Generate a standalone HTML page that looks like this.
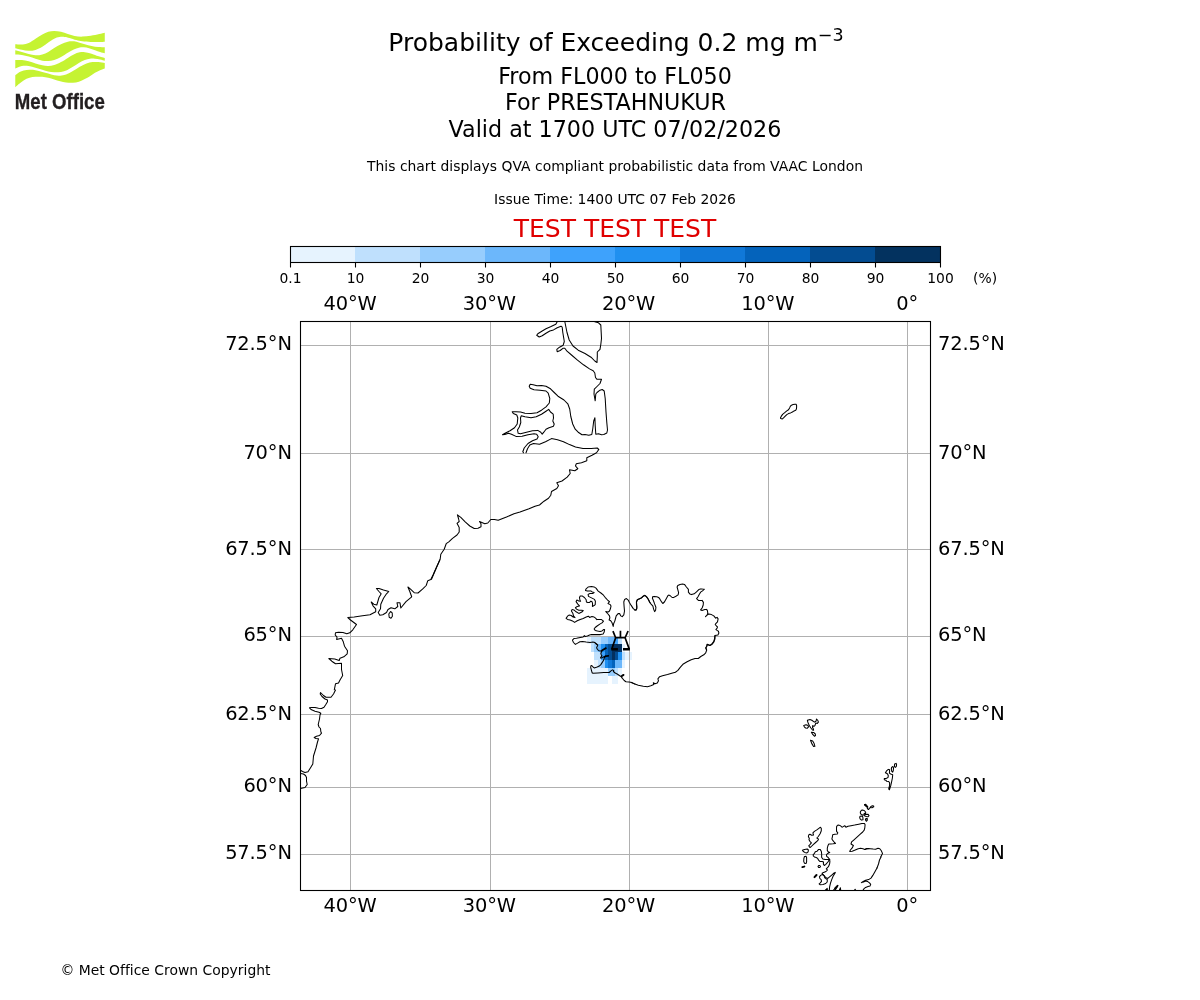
<!DOCTYPE html>
<html lang="en">
<head>
<meta charset="utf-8">
<title>Probability of Exceeding 0.2 mg m-3</title>
<style>
html,body{margin:0;padding:0;background:#fff;}
body{width:1200px;height:1000px;overflow:hidden;position:relative;}
svg{position:absolute;left:0;top:0;display:block;}
text{font-family:"DejaVu Sans","Liberation Sans",sans-serif;fill:#000;}
.t18{font-size:25px;}
.t16{font-size:22.22px;}
.t14{font-size:19.44px;letter-spacing:-0.15px;}
.t10{font-size:13.89px;letter-spacing:0.015px;}
.t9{font-size:12.5px;}
.mid{text-anchor:middle;}
.end{text-anchor:end;}
.grid line{stroke:#b0b0b0;stroke-width:1;}
.coast path{fill:none;stroke:#000;stroke-width:1.05;stroke-linejoin:round;stroke-linecap:round;}
</style>
</head>
<body>
<svg width="1200" height="1000" viewBox="0 0 1200 1000">
<g id="titles">
<text class="t18 mid" x="616" y="51">Probability of Exceeding 0.2 mg m<tspan dy="-10.5" font-size="17.5">−3</tspan></text>
<text class="t16 mid" x="615" y="84">From FL000 to FL050</text>
<text class="t16 mid" x="615.5" y="110">For PRESTAHNUKUR</text>
<text class="t16 mid" x="615" y="137">Valid at 1700 UTC 07/02/2026</text>
<text class="t10 mid" x="615" y="171">This chart displays QVA compliant probabilistic data from VAAC London</text>
<text class="t10 mid" x="615" y="204">Issue Time: 1400 UTC 07 Feb 2026</text>
<text class="t18 mid" x="615" y="237" style="fill:#e00000">TEST TEST TEST</text>
<text class="t10" x="60.4" y="975">© Met Office Crown Copyright</text>
</g>
<g id="colorbar">
<rect x="290" y="246" width="65.5" height="16" fill="#E6F3FE"/>
<rect x="355" y="246" width="65.5" height="16" fill="#BFE0FD"/>
<rect x="420" y="246" width="65.5" height="16" fill="#97CDFD"/>
<rect x="485" y="246" width="65.5" height="16" fill="#6CB7FB"/>
<rect x="550" y="246" width="65.5" height="16" fill="#3EA2FC"/>
<rect x="615" y="246" width="65.5" height="16" fill="#2090F0"/>
<rect x="680" y="246" width="65.5" height="16" fill="#1078D8"/>
<rect x="745" y="246" width="65.5" height="16" fill="#0463BB"/>
<rect x="810" y="246" width="65.5" height="16" fill="#034C91"/>
<rect x="875" y="246" width="65.5" height="16" fill="#03325F"/>
<rect x="290.5" y="246.5" width="650" height="16" fill="none" stroke="#000" stroke-width="1.1"/>
<line x1="290.5" y1="262.5" x2="290.5" y2="267.5" stroke="#000" stroke-width="1.1"/>
<text class="t10 mid" x="290.5" y="283">0.1</text>
<line x1="355.5" y1="262.5" x2="355.5" y2="267.5" stroke="#000" stroke-width="1.1"/>
<text class="t10 mid" x="355.5" y="283">10</text>
<line x1="420.5" y1="262.5" x2="420.5" y2="267.5" stroke="#000" stroke-width="1.1"/>
<text class="t10 mid" x="420.5" y="283">20</text>
<line x1="485.5" y1="262.5" x2="485.5" y2="267.5" stroke="#000" stroke-width="1.1"/>
<text class="t10 mid" x="485.5" y="283">30</text>
<line x1="550.5" y1="262.5" x2="550.5" y2="267.5" stroke="#000" stroke-width="1.1"/>
<text class="t10 mid" x="550.5" y="283">40</text>
<line x1="615.5" y1="262.5" x2="615.5" y2="267.5" stroke="#000" stroke-width="1.1"/>
<text class="t10 mid" x="615.5" y="283">50</text>
<line x1="680.5" y1="262.5" x2="680.5" y2="267.5" stroke="#000" stroke-width="1.1"/>
<text class="t10 mid" x="680.5" y="283">60</text>
<line x1="745.5" y1="262.5" x2="745.5" y2="267.5" stroke="#000" stroke-width="1.1"/>
<text class="t10 mid" x="745.5" y="283">70</text>
<line x1="810.5" y1="262.5" x2="810.5" y2="267.5" stroke="#000" stroke-width="1.1"/>
<text class="t10 mid" x="810.5" y="283">80</text>
<line x1="875.5" y1="262.5" x2="875.5" y2="267.5" stroke="#000" stroke-width="1.1"/>
<text class="t10 mid" x="875.5" y="283">90</text>
<line x1="940.5" y1="262.5" x2="940.5" y2="267.5" stroke="#000" stroke-width="1.1"/>
<text class="t10 mid" x="940.5" y="283">100</text>
<text class="t10" x="973" y="283">(%)</text>
</g>
<g id="map">
<clipPath id="mc"><rect x="300.5" y="321.5" width="630" height="569"/></clipPath>
<g id="cells" shape-rendering="crispEdges">
<rect x="587" y="637" width="4" height="7" fill="#E6F3FE"/>
<rect x="591" y="637" width="3" height="7" fill="#BFE0FD"/>
<rect x="594" y="637" width="4" height="7" fill="#BFE0FD"/>
<rect x="598" y="637" width="3" height="7" fill="#BFE0FD"/>
<rect x="601" y="637" width="4" height="7" fill="#97CDFD"/>
<rect x="605" y="637" width="3" height="7" fill="#97CDFD"/>
<rect x="608" y="637" width="4" height="7" fill="#6CB7FB"/>
<rect x="612" y="637" width="3" height="7" fill="#6CB7FB"/>
<rect x="615" y="637" width="3" height="7" fill="#3EA2FC"/>
<rect x="618" y="637" width="4" height="7" fill="#BFE0FD"/>
<rect x="591" y="644" width="3" height="8" fill="#BFE0FD"/>
<rect x="594" y="644" width="4" height="8" fill="#97CDFD"/>
<rect x="598" y="644" width="3" height="8" fill="#6CB7FB"/>
<rect x="601" y="644" width="4" height="8" fill="#2090F0"/>
<rect x="605" y="644" width="3" height="8" fill="#0463BB"/>
<rect x="608" y="644" width="4" height="8" fill="#034C91"/>
<rect x="612" y="644" width="3" height="8" fill="#03305F"/>
<rect x="615" y="644" width="3" height="8" fill="#03305F"/>
<rect x="618" y="644" width="4" height="8" fill="#03305F"/>
<rect x="622" y="644" width="3" height="8" fill="#E6F3FE"/>
<rect x="594" y="652" width="4" height="8" fill="#BFE0FD"/>
<rect x="598" y="652" width="3" height="8" fill="#BFE0FD"/>
<rect x="601" y="652" width="4" height="8" fill="#3EA2FC"/>
<rect x="605" y="652" width="3" height="8" fill="#0463BB"/>
<rect x="608" y="652" width="4" height="8" fill="#034C91"/>
<rect x="612" y="652" width="3" height="8" fill="#03305F"/>
<rect x="615" y="652" width="3" height="8" fill="#034C91"/>
<rect x="618" y="652" width="4" height="8" fill="#2090F0"/>
<rect x="622" y="652" width="3" height="8" fill="#BFE0FD"/>
<rect x="625" y="652" width="4" height="8" fill="#E6F3FE"/>
<rect x="629" y="652" width="3" height="8" fill="#E6F3FE"/>
<rect x="594" y="660" width="4" height="8" fill="#E6F3FE"/>
<rect x="598" y="660" width="3" height="8" fill="#BFE0FD"/>
<rect x="601" y="660" width="4" height="8" fill="#97CDFD"/>
<rect x="605" y="660" width="3" height="8" fill="#2090F0"/>
<rect x="608" y="660" width="4" height="8" fill="#1078D8"/>
<rect x="612" y="660" width="3" height="8" fill="#0463BB"/>
<rect x="615" y="660" width="3" height="8" fill="#6CB7FB"/>
<rect x="618" y="660" width="4" height="8" fill="#6CB7FB"/>
<rect x="622" y="660" width="3" height="8" fill="#E6F3FE"/>
<rect x="587" y="668" width="4" height="8" fill="#E6F3FE"/>
<rect x="591" y="668" width="3" height="8" fill="#E6F3FE"/>
<rect x="594" y="668" width="4" height="8" fill="#E6F3FE"/>
<rect x="598" y="668" width="3" height="8" fill="#E6F3FE"/>
<rect x="601" y="668" width="4" height="8" fill="#E6F3FE"/>
<rect x="605" y="668" width="3" height="8" fill="#E6F3FE"/>
<rect x="608" y="668" width="4" height="8" fill="#97CDFD"/>
<rect x="612" y="668" width="3" height="8" fill="#97CDFD"/>
<rect x="615" y="668" width="3" height="8" fill="#BFE0FD"/>
<rect x="618" y="668" width="4" height="8" fill="#E6F3FE"/>
<rect x="587" y="676" width="4" height="8" fill="#E6F3FE"/>
<rect x="591" y="676" width="3" height="8" fill="#E6F3FE"/>
<rect x="594" y="676" width="4" height="8" fill="#E6F3FE"/>
<rect x="598" y="676" width="3" height="8" fill="#E6F3FE"/>
<rect x="601" y="676" width="4" height="8" fill="#E6F3FE"/>
<rect x="605" y="676" width="3" height="8" fill="#E6F3FE"/>
<rect x="612" y="676" width="3" height="8" fill="#E6F3FE"/>
<rect x="615" y="676" width="3" height="8" fill="#E6F3FE"/>
</g>
<g class="grid">
<line x1="350.5" y1="321.5" x2="350.5" y2="890.5"/>
<line x1="490.5" y1="321.5" x2="490.5" y2="890.5"/>
<line x1="629.5" y1="321.5" x2="629.5" y2="890.5"/>
<line x1="768.5" y1="321.5" x2="768.5" y2="890.5"/>
<line x1="907.5" y1="321.5" x2="907.5" y2="890.5"/>
<line x1="300.5" y1="345.5" x2="930.5" y2="345.5"/>
<line x1="300.5" y1="453.5" x2="930.5" y2="453.5"/>
<line x1="300.5" y1="549.5" x2="930.5" y2="549.5"/>
<line x1="300.5" y1="636.5" x2="930.5" y2="636.5"/>
<line x1="300.5" y1="714.5" x2="930.5" y2="714.5"/>
<line x1="300.5" y1="787.5" x2="930.5" y2="787.5"/>
<line x1="300.5" y1="854.5" x2="930.5" y2="854.5"/>
</g>
<g class="coast" clip-path="url(#mc)"><path d="M557.2,321.7 L555.8,324.2 L550.5,326.8 L546.0,328.8 L542.2,331.0 L537.8,333.7 L536.7,335.2 L539.2,337.0 L542.2,335.8 L546.0,333.2 L549.8,331.0 L553.5,329.9 L557.2,327.7 L561.0,326.2 L562.2,327.2 L562.8,332.5 L563.7,337.8 L564.3,341.5 L563.2,345.2 L559.5,347.2 L556.8,349.3 L557.2,351.7 L560.2,350.5 L563.2,348.2 L564.8,348.2 L567.0,351.2 L571.5,355.0 L577.5,360.2 L583.5,364.8 L589.5,368.9 L593.2,370.8 L594.8,373.0 L595.5,377.5 L597.0,379.3 L601.5,379.3 L600.0,383.5 L597.0,386.5 L594.3,389.2 L594.0,394.0 L595.2,400.8 L595.8,394.0 L597.0,392.5 L600.0,390.2 L602.2,389.5 L604.2,391.0 L605.2,398.5 L606.0,412.0 L606.8,422.5 L607.5,430.0 L606.8,433.0 L603.8,434.5 L601.5,434.8 L598.5,433.8 L595.8,434.2 L595.2,425.5 L594.9,417.7 L593.7,421.0 L592.8,428.5 L591.8,434.5 L588.8,435.2 L585.0,434.5 L582.0,434.8 L578.2,432.2 L575.2,429.2 L572.7,424.0 L570.8,416.5 L569.7,409.0 L567.8,403.8 L564.0,400.0 L558.0,396.2 L554.2,392.5 L550.5,388.8 L546.0,386.2 L541.5,385.4 L537.0,385.8 L533.2,384.7 L530.2,384.2 L529.2,386.2 L530.2,388.3 L534.0,389.8 L540.0,390.2 L546.0,391.0 L548.2,393.2 L549.8,398.5 L549.3,403.0 L546.0,406.8 L541.5,410.2 L537.0,412.8 L531.0,413.5 L525.0,413.2 L520.5,412.0 L516.0,411.7 L512.2,411.7 L513.3,413.5 L516.8,415.0 L517.8,418.0 L517.2,424.0 L514.5,427.8 L510.0,430.8 L505.5,433.0 L502.5,434.8 L504.8,434.5 L508.5,433.3 L511.5,434.2 L516.0,436.4 L522.0,436.3 L528.0,434.8 L534.0,433.8 L536.7,434.2 L538.2,436.8 L537.0,439.0 L532.5,440.8 L528.0,443.5 L524.2,448.0 L522.8,451.8 L523.5,452.8"/>
<path d="M521.2,415.8 L525.0,416.8 L531.0,417.7 L536.2,416.8 L541.5,414.2 L546.0,411.2 L548.7,409.4 L550.5,412.0 L553.2,414.2 L553.5,418.0 L552.8,421.0 L554.2,424.0 L553.5,426.2 L549.0,427.8 L546.0,429.2 L543.8,432.2 L542.2,434.2 L540.8,432.2 L537.8,430.4 L532.5,430.8 L526.5,432.2 L520.5,433.8 L518.2,433.3 L517.5,430.0 L519.3,427.0 L520.8,422.5 L520.5,418.0Z"/>
<path d="M594.8,321.7 L598.5,322.8 L600.8,325.0 L601.2,332.5 L601.5,338.5 L600.8,344.5 L600.0,349.3 L597.3,352.0 L597.3,356.5 L597.0,362.5 L594.8,361.0 L591.0,357.2 L585.0,353.5 L578.2,350.2 L573.0,346.0 L569.2,340.0 L567.0,332.5 L565.8,326.5 L564.8,321.7"/>
<path d="M526.0,452.8 L527.5,448.8 L529.8,445.0 L533.5,443.5 L539.5,444.2 L545.5,441.7 L551.5,438.6 L557.5,439.8 L563.5,441.7 L569.5,444.6 L575.5,446.9 L583.0,448.4 L591.2,448.4 L597.2,448.0 L598.8,449.5 L596.5,452.8 L592.0,455.2 L586.8,457.8 L586.8,460.8 L581.5,462.7 L576.2,463.8 L575.5,466.0 L577.8,468.7 L574.8,470.8 L569.5,469.8 L570.2,473.5 L567.2,477.2 L562.0,481.0 L556.8,482.8 L558.5,485.8 L556.8,488.5 L551.5,491.5 L550.8,495.2 L548.5,498.2 L544.0,501.2 L539.5,505.0 L535.0,506.2 L529.0,508.8 L520.0,512.0 L514.0,513.7 L506.5,517.0 L498.2,520.3 L494.5,519.5 L490.8,519.5 L487.8,523.0 L484.8,523.8 L479.5,521.5 L481.0,523.8 L481.0,526.8 L478.0,528.2 L474.2,528.5 L469.8,526.0 L465.2,521.8 L460.8,517.3 L457.4,514.8 L458.5,518.5 L459.2,521.5 L457.0,523.3 L459.2,527.5 L459.2,532.0 L457.0,535.0 L452.5,538.3 L448.8,541.8 L446.2,543.7 L444.2,549.2 L440.8,554.2 L440.2,559.0 L436.0,568.8 L431.5,579.2"/>
<path d="M439.8,560.0 L436.0,568.2 L433.0,575.0 L430.8,579.5 L427.8,580.7 L426.2,585.5 L422.5,589.2 L418.0,593.0 L414.2,592.7 L410.5,589.2 L407.9,587.0 L409.8,591.5 L411.7,596.8 L406.0,601.7 L400.8,608.0 L400.0,602.8 L397.0,602.8 L397.8,606.5 L394.8,608.8 L391.0,607.7 L388.0,609.5 L386.5,612.5 L382.8,614.8 L379.8,615.2 L378.2,612.5 L380.5,608.8 L380.8,604.2 L383.5,598.2 L386.5,593.8 L388.8,591.5 L383.5,590.0 L379.0,588.5 L376.4,588.5 L379.0,591.5 L381.2,593.8 L379.0,597.5 L376.8,605.0 L373.8,604.2 L371.2,602.0 L373.0,605.8 L375.7,608.8 L375.7,611.8 L370.0,614.8 L362.5,615.8 L354.2,617.0 L347.8,617.5 L350.5,620.0 L356.5,624.5 L352.8,629.8 L349.8,632.8 L346.8,633.8 L343.0,632.5 L338.5,632.3 L335.5,632.8 L335.2,635.0 L337.0,637.2 L336.7,639.5 L341.5,638.3 L343.3,641.8 L344.5,646.2 L347.5,650.8 L347.2,653.8 L343.8,656.8 L340.0,658.2 L339.2,660.5 L334.8,659.0 L328.8,658.5 L331.8,661.2 L335.5,663.8 L341.5,663.2 L341.5,669.5 L342.7,675.5 L340.0,680.0 L338.5,683.0 L335.5,683.8 L334.3,689.8"/>
<path d="M390.6,611.5 L392.2,612.8 L392.4,616.2 L391.0,618.2 L389.2,617.3 L388.8,614.0Z"/>
<path d="M335.5,690.0 L333.5,694.0 L331.0,697.2 L326.0,697.2 L323.5,695.5 L320.5,692.5 L320.2,694.0 L322.0,696.5 L325.0,699.0 L327.5,700.0 L327.5,701.8 L325.5,705.0 L324.0,707.2 L321.5,708.5 L318.5,708.2 L315.0,707.5 L311.5,707.5 L309.5,707.8 L311.0,709.5 L315.0,711.2 L319.0,712.2 L320.8,713.2 L320.0,715.0 L319.5,719.0 L318.2,724.5 L319.0,727.0 L320.5,728.5 L320.8,731.5 L321.5,733.2 L319.5,735.5 L316.5,736.2 L314.2,737.5 L316.0,738.5 L318.5,738.8 L317.5,742.0 L316.0,748.0 L313.5,756.0 L312.8,764.0 L311.0,767.0 L308.0,771.8 L305.0,772.5 L302.5,771.5 L300.5,770.3"/>
<path d="M300.5,773.5 L303.5,774.0 L305.5,775.5 L306.5,777.5 L306.5,781.0 L307.2,784.5 L305.0,787.5 L300.5,788.5"/>
<path d="M650.0,602.8 L648.5,599.8 L646.6,596.8 L644.8,595.4 L642.5,596.8 L640.2,598.6 L637.6,599.6 L636.5,602.0 L636.9,606.5 L636.5,609.5 L635.0,610.2 L633.1,608.4 L631.2,605.4 L629.4,602.4 L628.2,600.1 L626.4,598.6 L624.6,599.4 L623.8,602.0 L624.1,606.5 L624.5,611.0 L623.8,614.8 L622.2,616.6 L620.8,615.9 L619.6,613.6 L618.1,613.6 L616.2,615.9 L615.5,618.5 L614.8,621.1 L613.6,623.8 L613.2,626.4 L612.5,624.1 L611.8,622.2 L610.4,620.4 L609.1,620.0 L609.9,617.8 L609.5,615.9 L608.0,614.0 L606.5,612.5 L605.8,611.5 L608.0,612.1 L609.5,611.0 L610.4,608.8 L611.0,606.1 L610.2,604.6 L608.0,603.5 L609.5,601.6 L608.0,600.5 L605.8,598.2 L603.5,595.2 L600.9,593.0 L598.2,591.1 L596.0,588.1 L594.1,586.9 L591.5,586.6 L588.1,587.0 L585.9,589.2 L585.5,590.4 L587.4,591.1 L590.8,590.9 L592.2,591.9 L594.1,592.6 L593.0,593.4 L590.0,593.4 L588.1,594.5 L588.5,596.4 L591.5,597.9 L594.5,599.4 L595.4,601.2 L595.2,604.6 L594.1,605.6 L592.4,606.4 L592.6,603.9 L592.2,602.0 L590.9,601.1 L589.6,602.4 L587.8,602.6 L586.4,602.0 L586.2,599.8 L584.4,597.5 L582.1,595.9 L580.2,596.0 L579.5,597.5 L579.9,600.1 L580.6,601.2 L578.8,600.9 L576.9,600.1 L576.1,601.6 L577.6,603.9 L579.5,605.9 L577.2,606.5 L575.4,607.6 L576.5,609.1 L578.8,610.2 L581.4,610.2 L583.2,610.6 L581.8,612.1 L578.8,613.4 L576.1,611.8 L573.9,609.9 L572.0,609.6 L571.4,610.9 L572.8,613.2 L573.5,615.9 L575.0,617.6 L573.1,617.0 L571.2,615.5 L569.0,615.1 L567.5,616.2 L566.1,618.4 L567.5,619.4 L570.1,619.9 L572.4,620.9 L574.6,622.4 L577.2,620.8 L580.2,619.4 L583.2,618.4 L586.2,617.0 L588.4,616.2 L589.6,617.4 L591.9,616.6 L594.1,617.1 L595.6,618.1 L596.8,619.6 L599.0,619.4 L601.2,619.4 L603.5,621.1 L602.0,622.9 L599.8,624.1 L597.1,626.0 L595.2,627.5 L594.1,629.0 L595.2,630.4 L597.5,631.1 L600.1,631.4 L602.0,630.9 L603.5,629.6 L604.6,629.6 L604.2,632.0 L603.1,634.1 L600.5,634.6 L596.0,634.6 L591.5,634.6 L589.6,635.0 L587.4,635.9 L585.1,636.6 L584.4,635.6 L583.2,636.9 L580.2,637.4 L576.5,638.2 L573.9,638.6 L572.4,640.1 L573.5,642.5 L575.4,644.4 L577.6,643.1 L579.9,641.8 L582.5,641.4 L586.2,642.0 L590.0,642.4 L593.0,642.1 L594.6,642.5 L596.0,643.9 L597.5,645.1"/>
<path d="M594.5,642.4 L596.3,643.6 L597.8,645.1 L597.2,646.6 L596.6,647.8 L597.5,649.6 L599.0,650.7 L600.8,650.9 L602.3,650.2 L601.7,651.4 L600.8,653.2 L601.3,655.0 L602.0,655.9 L600.8,657.1 L600.5,658.0 L602.0,657.9 L603.8,656.8 L605.9,656.1 L604.4,657.7 L603.8,659.8 L602.6,661.9 L600.8,664.6 L599.3,666.1 L597.2,667.0 L594.2,667.9 L593.0,667.0 L591.8,665.5 L590.9,665.8 L590.7,667.3 L591.5,670.6 L592.1,672.7 L593.0,673.3 L597.8,672.9 L603.8,672.6 L609.2,672.5 L611.0,670.9 L612.5,669.9 L613.7,670.5 L613.4,671.5 L615.2,673.0 L617.6,674.2 L619.7,675.7 L621.2,676.6 L622.4,678.4 L624.2,680.5 L626.0,681.7 L629.0,682.0 L632.0,682.6 L635.0,684.1"/>
<path d="M635.0,610.1 L636.4,609.9 L636.9,608.0 L636.5,605.0 L636.4,602.0 L637.2,599.8 L639.1,599.1 L641.4,598.1 L643.2,596.1 L644.8,595.4 L646.2,596.4 L647.9,598.6 L649.6,602.0 L651.1,604.1 L652.9,606.1 L653.6,609.1 L654.6,611.6 L655.6,610.2 L655.9,607.2 L654.6,603.9 L653.4,600.5 L652.4,598.2 L652.6,596.8 L654.1,596.4 L656.8,596.8 L658.6,597.4 L660.1,599.4 L661.6,601.9 L662.8,603.5 L664.4,602.0 L666.1,598.9 L668.0,595.6 L669.1,595.1 L670.6,596.0 L672.1,597.5 L673.4,597.6 L675.9,596.2 L678.1,594.9 L678.6,592.6 L677.8,589.6 L677.1,587.0 L677.8,585.5 L680.0,584.5 L682.6,584.0 L684.5,584.4 L686.4,587.0 L688.4,589.4 L688.4,592.2 L689.8,593.9 L691.6,594.6 L694.2,593.8 L696.5,591.9 L698.8,589.6 L700.6,588.9 L702.5,589.1 L704.4,589.2 L702.5,590.8 L700.6,592.2 L699.5,594.1 L698.0,596.8 L696.6,598.6 L698.4,600.4 L700.6,600.5 L702.1,600.4 L703.4,602.4 L703.2,605.0 L702.1,608.0 L700.6,609.9 L702.1,610.4 L704.8,609.6 L706.6,609.4 L707.4,610.6 L707.8,613.2 L707.0,615.1 L705.5,616.6 L707.4,614.8 L708.9,614.1 L711.5,614.6 L713.8,615.9 L715.6,618.1 L717.1,617.4 L718.1,618.9 L717.5,621.9 L716.0,623.4 L715.2,624.5 L716.4,626.0 L717.5,626.8 L717.1,628.2 L715.9,629.6 L717.1,630.4 L718.4,631.2 L718.9,633.1 L717.9,635.0 L714.9,635.6 L714.5,638.8 L713.8,641.4 L711.9,644.0 L710.0,645.4 L707.4,644.4 L707.0,645.9 L705.9,647.8 L706.6,650.0"/>
<path d="M715.0,635.8 L715.0,638.8 L713.8,642.1 L711.7,644.6 L710.0,645.4 L707.1,644.2 L706.7,646.2 L705.7,647.9 L706.7,650.0 L705.7,652.9 L703.8,654.8 L700.8,656.5 L698.3,658.5 L695.0,658.5 L691.2,659.8 L687.1,661.8 L682.9,664.3 L680.4,667.1 L677.9,670.4 L675.4,672.2 L671.7,673.2 L667.5,674.6 L662.5,675.8 L659.6,676.7 L657.9,678.8 L658.5,680.8 L657.3,682.9 L655.0,683.8 L653.3,682.7 L653.8,684.6 L650.8,685.8 L647.5,686.7 L643.3,686.2 L638.3,685.2 L634.2,683.8 L631.2,682.5"/>
<path d="M780.5,417.8 L781.2,416.4 L782.6,414.4 L784.7,412.7 L786.8,410.9 L788.5,409.7 L789.6,407.9 L790.5,406.0 L791.4,405.3 L793.1,404.6 L794.9,404.2 L796.1,404.3 L796.6,405.5 L796.6,407.2 L796.4,409.0 L795.7,410.2 L794.1,410.9 L792.4,412.0 L790.6,412.9 L788.5,413.6 L786.8,414.6 L785.0,416.4 L783.5,417.9 L782.4,418.9 L781.4,418.8 L780.5,418.3Z"/>
<path d="M807.4,720.3 L810.0,719.5 L811.8,720.3 L814.4,722.1 L816.0,721.2 L816.6,719.0 L818.0,720.8 L818.4,722.1 L817.3,723.4 L815.8,723.0 L814.9,725.6 L814.0,726.3 L812.7,725.6 L812.5,727.4 L813.3,728.7 L813.6,730.2 L812.5,730.0 L810.9,728.0 L809.6,726.0 L808.7,724.3 L807.8,722.1Z"/>
<path d="M803.7,725.4 L806.1,724.7 L808.1,725.6 L808.5,726.9 L807.4,728.2 L805.6,728.0 L804.3,726.9Z"/>
<path d="M811.4,732.2 L813.6,732.4 L815.3,734.0 L815.5,735.5 L814.4,736.2 L812.7,734.4Z"/>
<path d="M810.5,740.3 L812.7,741.0 L814.0,743.2 L814.9,746.3 L813.6,746.5 L811.8,743.6Z"/>
<path d="M888.3,769.4 L889.4,769.6 L889.6,771.4 L889.4,773.1 L890.7,774.0 L892.7,774.7 L892.4,778.0 L891.6,781.9 L890.7,785.9 L889.4,789.8 L888.7,789.0 L889.6,785.4 L889.6,782.8 L888.7,781.5 L886.7,781.3 L885.8,780.2 L884.3,779.7 L884.3,778.6 L886.3,778.4 L888.0,777.5 L888.3,775.8 L887.6,774.0 L886.5,773.3 L885.4,772.7 L886.5,770.9Z"/>
<path d="M891.6,767.4 L892.9,766.5 L893.5,767.8 L893.3,770.5 L892.7,772.2 L891.8,771.4 L891.3,769.2Z"/>
<path d="M894.6,764.1 L896.2,763.4 L896.6,764.8 L896.2,766.7 L895.3,767.4 L894.4,766.3Z"/>
<path d="M820.4,827.2 L821.3,828.4 L821.3,830.8 L820.1,833.8 L818.3,836.5 L816.8,838.0 L818.6,839.1 L817.7,840.7 L815.6,842.5 L813.2,844.6 L810.8,847.0 L809.9,847.5 L808.7,845.8 L809.9,844.6 L811.4,842.8 L809.9,841.3 L809.0,839.8 L809.3,838.3 L808.4,836.8 L808.7,835.0 L809.9,834.3 L811.7,835.3 L813.5,835.0 L812.9,832.9 L814.4,831.4 L816.8,829.9 L818.9,828.3Z"/>
<path d="M802.4,850.3 L804.5,849.4 L807.2,849.0 L808.4,850.0 L808.1,851.8 L806.9,852.9 L804.8,852.4 L803.3,851.5Z"/>
<path d="M804.5,856.5 L806.0,856.3 L806.6,857.5 L806.6,862.0 L806.0,863.5 L804.5,863.2 L803.7,861.4 L803.9,858.4Z"/>
<path d="M813.2,854.5 L814.4,853.6 L815.3,851.8 L817.1,851.2 L818.6,849.4 L820.1,849.4 L821.3,851.2 L821.7,854.2 L821.6,857.2 L822.8,859.0 L825.2,859.5 L828.2,859.5 L829.4,859.6 L827.9,862.0 L825.8,864.4 L824.3,865.5 L823.4,864.1 L823.5,862.0 L822.2,861.4 L819.8,861.4 L818.6,860.2 L817.7,858.4 L816.2,857.5 L814.4,856.9 L813.3,855.9Z"/>
<path d="M818.0,866.5 L818.6,865.5 L819.8,865.5 L820.5,866.5 L819.8,867.5 L818.6,867.5Z"/>
<path d="M869.0,848.5 L866.9,848.8 L864.8,849.4 L863.0,848.8 L860.6,848.2 L858.2,848.7 L855.2,850.0 L852.2,851.2 L849.7,851.5 L850.4,850.0 L852.2,847.9 L853.4,845.5 L851.0,844.0 L851.6,841.9 L854.0,839.8 L857.0,837.1 L860.0,834.4 L862.7,832.0 L864.2,830.2 L864.8,827.8 L865.1,824.8 L864.5,823.6 L861.8,823.5 L858.8,824.2 L854.6,825.1 L851.0,825.7 L848.0,826.3 L845.9,827.2 L844.7,825.7 L843.2,826.6 L842.0,827.2 L840.8,826.0 L839.0,825.1 L837.5,825.3 L836.6,826.6 L836.5,829.0 L836.6,831.4 L837.8,832.9 L837.3,834.1 L834.8,834.3 L832.7,834.7 L832.4,836.8 L831.9,838.9 L833.0,840.7 L834.5,842.5 L835.5,843.4 L833.0,843.7 L830.6,843.9 L828.8,844.0 L827.9,845.8 L827.3,848.2 L827.3,850.6 L828.2,851.8 L829.7,852.5 L827.6,853.5 L826.4,854.8 L826.7,856.3 L828.2,857.5 L829.7,859.6"/>
<path d="M829.6,859.2 L829.9,861.6 L829.6,864.0 L828.4,866.7 L826.3,868.8 L827.5,870.0 L826.0,871.5 L823.6,872.4 L822.1,873.3 L822.7,874.5 L824.2,875.7 L825.7,877.5 L827.8,878.4 L829.9,876.6 L832.0,874.8 L834.1,873.0 L835.3,872.4 L834.4,874.2 L833.2,876.0 L831.7,879.6 L830.5,883.2 L829.6,886.8 L829.3,890.7"/>
<path d="M822.4,874.5 L820.6,875.4 L819.4,876.9 L820.0,878.7 L821.2,879.6 L821.5,881.4 L820.3,882.9 L819.1,883.8 L820.0,884.7 L823.0,884.4 L825.7,883.5 L827.2,882.0 L827.3,879.6 L826.0,878.7 L824.8,877.8 L824.2,876.0 L823.3,874.8Z"/>
<path d="M825.1,890.4 L827.2,888.3 L827.5,890.7"/>
<path d="M833.2,890.7 L835.6,887.7 L837.7,885.6"/>
<path d="M835.0,890.4 L837.4,886.8"/>
<path d="M839.2,890.7 L840.4,887.7 L840.8,890.7"/>
<path d="M854.2,890.7 L855.1,889.2 L856.0,890.7"/>
<path d="M877.0,867.9 L875.2,871.2 L872.8,875.4 L871.0,878.1 L868.6,879.6 L865.6,880.2 L863.2,881.4 L861.4,882.6 L863.5,882.0 L865.6,881.1 L867.4,881.4 L869.5,882.9 L870.7,884.4 L870.1,885.9 L868.0,886.5 L865.6,887.4 L864.1,888.6 L862.6,890.7"/>
<path d="M864.8,849.4 L866.6,848.6 L870.2,848.7 L873.2,849.1 L875.6,849.2 L878.0,848.3 L879.8,848.7 L881.3,850.7 L882.5,853.4 L881.6,855.2 L880.7,857.0"/>
<path d="M881.0,857.0 L879.5,860.0 L878.5,864.0 L877.0,868.0"/>
<path d="M860.5,811.4 L862.1,809.9 L864.2,810.5 L865.6,812.0 L865.7,813.8 L864.2,813.3 L864.1,814.9 L862.7,815.0 L861.2,814.4 L860.3,812.9Z"/>
<path d="M860.0,816.3 L862.4,815.9 L862.9,817.7 L863.0,819.7 L861.5,820.1 L860.1,818.9 L859.7,817.4Z"/>
<path d="M865.7,814.4 L868.1,814.3 L869.0,815.6 L868.1,816.8 L866.3,816.5 L864.8,816.1 L864.3,815.0Z"/>
<path d="M865.4,818.9 L867.2,818.3 L867.3,820.1 L866.5,821.3 L865.7,820.4Z"/>
<path d="M864.5,804.8 L865.7,804.3 L866.9,805.7 L867.8,806.9 L867.3,808.7 L868.4,809.5 L869.6,808.4 L870.8,806.6 L872.3,805.7 L873.7,806.0 L873.7,806.9 L872.0,807.8 L870.8,807.5"/>
<path d="M602.3,650.2 L605.9,648.1" style="stroke-width:1.8"/>
<path d="M605.3,656.2 L608.3,655.9" style="stroke-width:1.6"/>
<path d="M621.5,676.3 L623.5,674.9" style="stroke-width:1.9"/>
<path d="M802.3,867.1 L804.3,866.6" style="stroke-width:2.0"/>
<path d="M814.5,877.1 L816.5,875.0" style="stroke-width:2.0"/>
<path d="M835.0,888.3 L837.7,885.7" style="stroke-width:1.6"/>
<path d="M864.8,804.8 L867.1,806.9" style="stroke-width:1.6"/></g>
<g id="volcano" fill="none" stroke="#000" stroke-linecap="butt" stroke-linejoin="miter">
<path d="M611.75,649.15 L615.65,637.75 L625.1,637.75 L629.3,649.15" stroke-width="1.7"/>
<path d="M615.65,637.75 L612.95,631.15 M620.45,637.75 L620.45,630.7 M625.1,637.75 L628.1,631" stroke-width="1.7"/>
<path d="M611.2,649.2 L617.9,649.2 M623,649.2 L629.9,649.2" stroke-width="2.4"/>
</g>
<rect x="300.5" y="321.5" width="630" height="569" fill="none" stroke="#000" stroke-width="1.1"/>
<text class="t14 mid" x="350.1" y="310">40°W</text>
<text class="t14 mid" x="350.1" y="912">40°W</text>
<text class="t14 mid" x="489.4" y="310">30°W</text>
<text class="t14 mid" x="489.4" y="912">30°W</text>
<text class="t14 mid" x="628.6" y="310">20°W</text>
<text class="t14 mid" x="628.6" y="912">20°W</text>
<text class="t14 mid" x="767.9" y="310">10°W</text>
<text class="t14 mid" x="767.9" y="912">10°W</text>
<text class="t14 mid" x="907.1" y="310">0°</text>
<text class="t14 mid" x="907.1" y="912">0°</text>
<text class="t14 end" x="291.8" y="350.0">72.5°N</text>
<text class="t14" x="938" y="350.0">72.5°N</text>
<text class="t14 end" x="291.8" y="458.9">70°N</text>
<text class="t14" x="938" y="458.9">70°N</text>
<text class="t14 end" x="291.8" y="554.5">67.5°N</text>
<text class="t14" x="938" y="554.5">67.5°N</text>
<text class="t14 end" x="291.8" y="640.8">65°N</text>
<text class="t14" x="938" y="640.8">65°N</text>
<text class="t14 end" x="291.8" y="719.5">62.5°N</text>
<text class="t14" x="938" y="719.5">62.5°N</text>
<text class="t14 end" x="291.8" y="792.0">60°N</text>
<text class="t14" x="938" y="792.0">60°N</text>
<text class="t14 end" x="291.8" y="858.8">57.5°N</text>
<text class="t14" x="938" y="858.8">57.5°N</text>
</g>
<g id="logo">
<path d="M15.27,44.27 C16.52,44.32 20.51,44.74 22.75,44.53 C24.99,44.32 26.57,43.96 28.70,43.00 C30.82,42.04 33.23,40.17 35.50,38.75 C37.77,37.33 40.17,35.66 42.30,34.50 C44.42,33.34 46.27,32.38 48.25,31.78 C50.23,31.19 52.07,30.93 54.20,30.93 C56.32,30.93 58.73,31.26 61.00,31.78 C63.27,32.30 65.53,33.37 67.80,34.08 C70.07,34.78 72.19,35.61 74.60,36.03 C77.01,36.45 79.56,36.67 82.25,36.62 C84.94,36.58 87.92,36.20 90.75,35.77 C93.58,35.35 96.91,34.60 99.25,34.08 C101.59,33.55 103.85,32.87 104.77,32.63 L104.77,41.73 C103.85,41.77 101.59,41.94 99.25,41.98 C96.91,42.02 93.58,42.09 90.75,41.98 C87.92,41.87 84.66,41.63 82.25,41.30 C79.84,40.97 78.42,40.59 76.30,40.02 C74.17,39.46 71.48,38.42 69.50,37.90 C67.52,37.38 66.10,37.02 64.40,36.88 C62.70,36.74 61.00,36.74 59.30,37.05 C57.60,37.36 56.04,37.83 54.20,38.75 C52.36,39.67 50.23,41.23 48.25,42.58 C46.27,43.92 44.42,45.59 42.30,46.83 C40.17,48.06 37.77,49.30 35.50,49.97 C33.23,50.64 30.97,50.85 28.70,50.82 C26.43,50.79 24.14,50.22 21.90,49.80 C19.66,49.38 16.38,48.52 15.27,48.27 Z" fill="#C5F332"/>
<path d="M15.27,50.22 C16.38,50.51 19.66,51.29 21.90,51.92 C24.14,52.56 26.43,53.48 28.70,54.05 C30.97,54.62 33.23,55.25 35.50,55.33 C37.77,55.40 40.17,55.04 42.30,54.47 C44.42,53.91 46.27,52.99 48.25,51.92 C50.23,50.86 52.07,49.37 54.20,48.10 C56.32,46.82 58.73,45.34 61.00,44.27 C63.27,43.21 65.82,42.22 67.80,41.73 C69.78,41.23 71.20,41.23 72.90,41.30 C74.60,41.37 76.02,41.65 78.00,42.15 C79.98,42.65 82.53,43.64 84.80,44.27 C87.07,44.91 89.33,45.51 91.60,45.97 C93.87,46.44 96.20,46.87 98.40,47.08 C100.60,47.29 103.71,47.22 104.77,47.25 L104.77,53.20 C104.00,52.99 101.73,52.42 100.10,51.92 C98.47,51.43 96.84,50.83 95.00,50.22 C93.16,49.62 90.89,48.77 89.05,48.27 C87.21,47.77 85.65,47.35 83.95,47.25 C82.25,47.15 80.55,47.32 78.85,47.67 C77.15,48.03 75.59,48.52 73.75,49.38 C71.91,50.23 69.92,51.50 67.80,52.77 C65.67,54.05 63.27,55.82 61.00,57.02 C58.73,58.23 56.32,59.33 54.20,60.00 C52.07,60.67 50.23,60.91 48.25,61.02 C46.27,61.13 44.42,61.06 42.30,60.68 C40.17,60.30 37.77,59.40 35.50,58.72 C33.23,58.04 30.97,57.24 28.70,56.60 C26.43,55.96 24.14,55.25 21.90,54.90 C19.66,54.55 16.38,54.55 15.27,54.47 Z" fill="#C5F332"/>
<path d="M15.27,60.00 C16.38,60.00 19.66,59.79 21.90,60.00 C24.14,60.21 26.43,60.71 28.70,61.27 C30.97,61.84 33.23,62.73 35.50,63.40 C37.77,64.07 40.17,64.84 42.30,65.27 C44.42,65.69 46.27,65.98 48.25,65.95 C50.23,65.92 52.07,65.74 54.20,65.10 C56.32,64.46 58.73,63.33 61.00,62.12 C63.27,60.92 65.67,59.15 67.80,57.88 C69.92,56.60 71.77,55.40 73.75,54.47 C75.73,53.55 77.86,52.73 79.70,52.35 C81.54,51.97 82.96,51.97 84.80,52.18 C86.64,52.39 88.77,53.03 90.75,53.62 C92.73,54.22 94.36,55.04 96.70,55.75 C99.04,56.46 103.43,57.52 104.77,57.88 L104.77,60.85 C104.00,60.64 101.73,59.93 100.10,59.57 C98.47,59.22 96.70,58.87 95.00,58.72 C93.30,58.58 91.60,58.51 89.90,58.72 C88.20,58.94 86.64,59.29 84.80,60.00 C82.96,60.71 80.83,61.84 78.85,62.97 C76.87,64.11 74.88,65.60 72.90,66.80 C70.92,68.00 68.93,69.35 66.95,70.20 C64.97,71.05 63.12,71.55 61.00,71.90 C58.87,72.25 56.32,72.40 54.20,72.32 C52.07,72.25 50.23,71.90 48.25,71.47 C46.27,71.05 44.42,70.41 42.30,69.78 C40.17,69.14 37.77,68.29 35.50,67.65 C33.23,67.01 30.97,66.23 28.70,65.95 C26.43,65.67 24.14,65.52 21.90,65.95 C19.66,66.37 16.38,68.08 15.27,68.50 Z" fill="#C5F332"/>
<path d="M15.27,75.30 C15.81,74.88 17.11,73.53 18.50,72.75 C19.89,71.97 21.76,71.12 23.60,70.62 C25.44,70.13 27.57,69.85 29.55,69.78 C31.53,69.70 33.38,69.85 35.50,70.20 C37.62,70.55 40.17,71.33 42.30,71.90 C44.42,72.47 46.27,73.03 48.25,73.60 C50.23,74.17 52.22,74.95 54.20,75.30 C56.18,75.65 58.17,75.87 60.15,75.72 C62.13,75.58 63.97,75.23 66.10,74.45 C68.22,73.67 70.63,72.32 72.90,71.05 C75.17,69.78 77.43,68.08 79.70,66.80 C81.97,65.52 84.38,64.18 86.50,63.40 C88.62,62.62 90.47,62.34 92.45,62.12 C94.43,61.91 96.35,61.98 98.40,62.12 C100.45,62.27 103.71,62.83 104.77,62.97 L104.77,68.50 C104.00,68.78 101.73,69.49 100.10,70.20 C98.47,70.91 96.70,71.76 95.00,72.75 C93.30,73.74 91.60,75.09 89.90,76.15 C88.20,77.21 86.64,78.20 84.80,79.12 C82.96,80.05 80.83,81.07 78.85,81.67 C76.87,82.28 75.03,82.64 72.90,82.78 C70.78,82.92 68.22,82.78 66.10,82.53 C63.97,82.27 62.13,81.77 60.15,81.25 C58.17,80.73 56.18,79.95 54.20,79.38 C52.22,78.81 50.23,78.27 48.25,77.85 C46.27,77.42 44.42,77.00 42.30,76.83 C40.17,76.66 37.62,76.66 35.50,76.83 C33.38,77.00 31.53,77.25 29.55,77.85 C27.57,78.44 25.44,79.34 23.60,80.40 C21.76,81.46 19.89,83.09 18.50,84.22 C17.11,85.36 15.81,86.70 15.27,87.20 Z" fill="#C5F332"/>
<text x="14.8" y="109.1" textLength="90" lengthAdjust="spacingAndGlyphs" style="font-family:'Liberation Sans',sans-serif;font-weight:bold;font-size:22px;fill:#231f20;stroke:#231f20;stroke-width:0.35px">Met Office</text>
</g>
</svg>
</body>
</html>
